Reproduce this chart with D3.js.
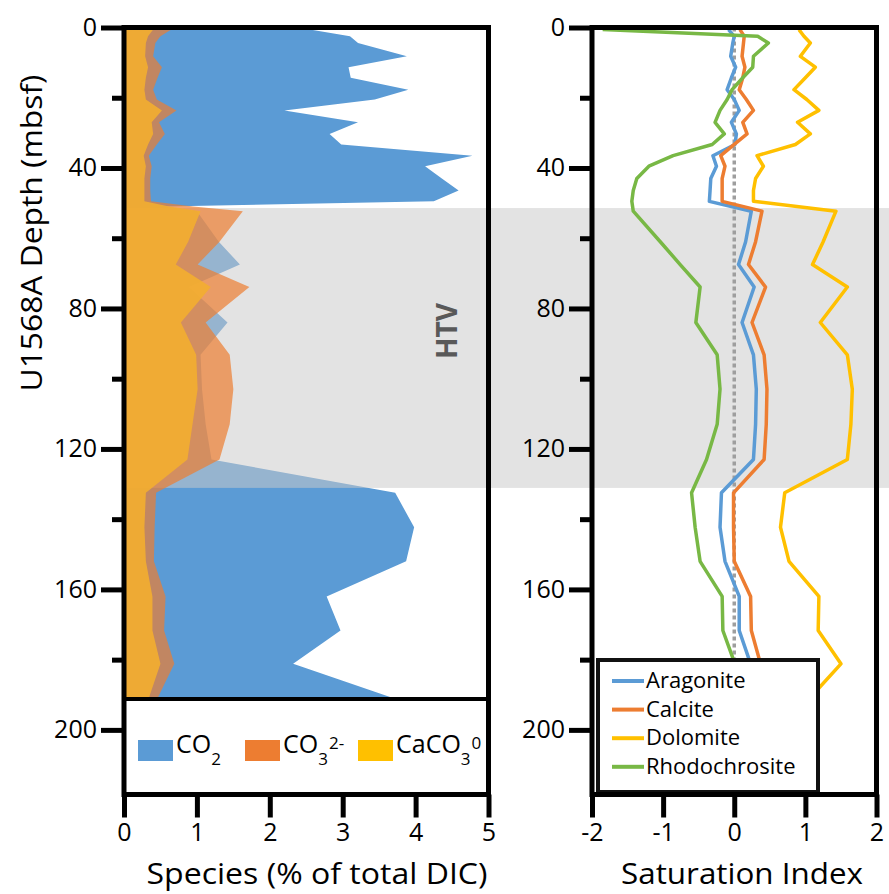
<!DOCTYPE html>
<html>
<head>
<meta charset="utf-8">
<script src="https://cdn.jsdelivr.net/npm/d3@7"></script>
<style>
  body { margin: 0; background: #fff; }
  svg text { font-family: 'Open Sans', sans-serif; fill: #000; }
</style>
</head>
<body>
<div id="chart"></div>
<script>
// sample depths (mbsf) used by the species panel
var depthSpecies = [0.6, 2.5, 4.4, 8.2, 11.3, 14.3, 17.7, 20.5, 23.6, 27.0, 30.3, 33.3, 36.5, 39.5, 43.0, 46.4, 49.5, 51.0,
  52.3, 61.0, 67.5, 73.9, 84.0, 93.2, 103.0, 113.0, 123.0, 132.5, 142.3, 152.0, 162.0, 171.7, 181.2, 191.0];
// % of total DIC
var co2 = [2.55, 3.10, 3.21, 3.88, 3.08, 3.11, 3.90, 3.44, 2.20, 3.21, 2.82, 2.98, 4.78, 4.13, 4.36, 4.59, 4.25, 0.55,
  1.00, 1.30, 1.59, 0.89, 1.42, 1.05, 1.07, 1.12, 1.20, 3.72, 3.98, 3.87, 2.78, 2.97, 2.32, 3.70];
var co3 = [0.65, 0.50, 0.43, 0.40, 0.52, 0.46, 0.40, 0.45, 0.72, 0.48, 0.56, 0.45, 0.34, 0.38, 0.36, 0.36, 0.37, 0.95,
  1.63, 1.31, 1.01, 1.72, 1.12, 1.45, 1.50, 1.45, 1.31, 0.44, 0.42, 0.41, 0.57, 0.55, 0.69, 0.46];
var caco3 = [0.40, 0.33, 0.30, 0.29, 0.33, 0.30, 0.28, 0.30, 0.52, 0.38, 0.40, 0.33, 0.27, 0.30, 0.28, 0.28, 0.28, 0.62,
  1.05, 0.88, 0.71, 1.19, 0.78, 0.99, 1.01, 0.94, 0.87, 0.30, 0.28, 0.30, 0.39, 0.39, 0.50, 0.34];

// sample depths (mbsf) used by the saturation index panel
var depthSI = [0.6, 2.5, 4.4, 8.2, 11.3, 14.3, 17.7, 20.5, 23.6, 27.0, 30.3, 33.3, 36.5, 39.5, 43.0, 46.4, 49.5,
  52.3, 61.0, 67.5, 73.9, 84.0, 93.2, 103.0, 113.0, 123.0, 132.5, 142.3, 152.0, 162.0, 171.7, 181.2, 191.0];
var aragonite = [-0.08, 0.00, -0.02, -0.05, 0.02, -0.04, -0.10, 0.00, 0.07, -0.04, 0.03, 0.01, -0.30, -0.25, -0.33, -0.34, -0.35,
  0.24, 0.16, 0.06, 0.28, 0.11, 0.27, 0.31, 0.30, 0.27, -0.18, -0.20, -0.13, 0.07, 0.07, 0.23, 0.30];
var calcite = [0.08, 0.14, 0.13, 0.11, 0.15, 0.12, 0.07, 0.17, 0.27, 0.12, 0.18, 0.00, -0.19, -0.13, -0.17, -0.17, -0.17,
  0.39, 0.30, 0.20, 0.44, 0.25, 0.42, 0.46, 0.45, 0.42, -0.01, -0.01, 0.00, 0.23, 0.24, 0.37, 0.42];
var dolomite = [0.91, 0.98, 1.07, 0.93, 1.14, 1.00, 0.84, 1.02, 1.19, 0.89, 1.07, 0.86, 0.32, 0.41, 0.30, 0.27, 0.27,
  1.43, 1.25, 1.10, 1.59, 1.21, 1.59, 1.66, 1.64, 1.59, 0.71, 0.65, 0.77, 1.19, 1.18, 1.50, 1.06];
var rhodochrosite = [-1.85, 0.33, 0.48, 0.27, 0.26, 0.12, -0.03, -0.10, -0.20, -0.27, -0.14, -0.31, -0.86, -1.20, -1.37, -1.42, -1.44,
  -1.42, -1.04, -0.76, -0.48, -0.54, -0.24, -0.20, -0.24, -0.39, -0.60, -0.55, -0.48, -0.17, -0.16, 0.01, 0.06];

var depthTicks = [0, 40, 80, 120, 160, 200];
var depthMinorTicks = [20, 60, 100, 140, 180];
var speciesTicks = [0, 1, 2, 3, 4, 5];
var siTicks = [-2, -1, 0, 1, 2];
var htvZone = [51.4, 131.1];

var width = 889, height = 894;
var svg = d3.select("#chart").append("svg")
  .attr("width", width)
  .attr("height", height);

var y = d3.scaleLinear().domain([0, 218.4]).range([27.5, 794.5]);
var xSp = d3.scaleLinear().domain([0, 5]).range([124, 488.5]);
var xSI = d3.scaleLinear().domain([-2, 2]).range([592, 876.5]);
var plotBottom = 699; // species plot ends where its legend box starts

svg.append("clipPath").attr("id", "clipSp")
  .append("rect")
  .attr("x", xSp(0)).attr("y", y(0))
  .attr("width", xSp(5) - xSp(0)).attr("height", plotBottom - y(0));
svg.append("clipPath").attr("id", "clipSI")
  .append("rect")
  .attr("x", xSI(-2)).attr("y", y(0))
  .attr("width", xSI(2) - xSI(-2)).attr("height", y.range()[1] - y(0));

function speciesArea(vals) {
  return d3.area()
    .y(function (d, i) { return y(depthSpecies[i]); })
    .x0(xSp(0))
    .x1(function (d) { return xSp(d); })(vals);
}

var left = svg.append("g").attr("clip-path", "url(#clipSp)");
left.append("path")
  .attr("d", speciesArea(co2))
  .attr("fill", "#5B9BD5");

// HTV interval shading, laid over the CO2 area
svg.append("rect")
  .attr("x", xSp(0))
  .attr("y", y(htvZone[0]))
  .attr("width", width - xSp(0))
  .attr("height", y(htvZone[1]) - y(htvZone[0]))
  .attr("fill", "#cacaca")
  .attr("fill-opacity", 0.53);

var left2 = svg.append("g").attr("clip-path", "url(#clipSp)");
left2.append("path")
  .attr("d", speciesArea(co3))
  .attr("fill", "#ED7D31")
  .attr("fill-opacity", 0.7);
left2.append("path")
  .attr("d", speciesArea(caco3))
  .attr("fill", "#F3AE30")
  .attr("fill-opacity", 0.9);

svg.append("text")
  .attr("transform", "translate(447,331) rotate(-90)")
  .attr("text-anchor", "middle")
  .attr("dy", "0.36em")
  .attr("font-size", "28px")
  .attr("font-weight", "bold")
  .attr("textLength", 56)
  .attr("lengthAdjust", "spacingAndGlyphs")
  .style("fill", "#595959")
  .text("HTV");

// saturation index panel
var right = svg.append("g").attr("clip-path", "url(#clipSI)");
right.append("line")
  .attr("x1", xSI(0)).attr("x2", xSI(0))
  .attr("y1", y(0)).attr("y2", y(depthSI[depthSI.length - 1]))
  .attr("stroke", "#9e9e9e")
  .attr("stroke-width", 3.5)
  .attr("stroke-dasharray", "4,3");

var minerals = [
  {name: "Aragonite", values: aragonite, color: "#5B9BD5"},
  {name: "Calcite", values: calcite, color: "#ED7D31"},
  {name: "Dolomite", values: dolomite, color: "#FFC000"},
  {name: "Rhodochrosite", values: rhodochrosite, color: "#78B845"}
];

var siLine = d3.line()
  .x(function (d) { return xSI(d); })
  .y(function (d, i) { return y(depthSI[i]); });

right.selectAll("path.mineral")
  .data(minerals)
  .enter().append("path")
  .attr("class", "mineral")
  .attr("fill", "none")
  .attr("stroke", function (d) { return d.color; })
  .attr("stroke-width", 3.5)
  .attr("stroke-linejoin", "round")
  .attr("d", function (d) { return siLine(d.values); });

// right legend
var leg = svg.append("g");
leg.append("rect")
  .attr("x", 598).attr("y", 660)
  .attr("width", 220).attr("height", 132)
  .attr("fill", "#fff")
  .attr("stroke", "#111")
  .attr("stroke-width", 4);
minerals.forEach(function (m, i) {
  var ly = 681 + i * 28.6;
  leg.append("line")
    .attr("x1", 612).attr("x2", 644)
    .attr("y1", ly).attr("y2", ly)
    .attr("stroke", m.color)
    .attr("stroke-width", 4);
  leg.append("text")
    .attr("x", 646).attr("y", ly + 7)
    .attr("font-size", "22px")
    .text(m.name);
});

// species legend
var species = [
  {main: "CO", sub: "2", sup: "", color: "#5B9BD5", x: 138},
  {main: "CO", sub: "3", sup: "2-", color: "#ED7D31", x: 245},
  {main: "CaCO", sub: "3", sup: "0", color: "#FFC000", x: 358}
];
species.forEach(function (s) {
  svg.append("rect")
    .attr("x", s.x).attr("y", 740)
    .attr("width", 35).attr("height", 21)
    .attr("fill", s.color);
  var t = svg.append("text")
    .attr("x", s.x + 38).attr("y", 753)
    .attr("font-size", "25px")
    .text(s.main);
  t.append("tspan").attr("dy", 12).attr("font-size", "17px").text(s.sub);
  if (s.sup) t.append("tspan").attr("dy", -16).attr("dx", 1).attr("font-size", "17px").text(s.sup);
});

// frames
svg.append("rect")
  .attr("x", xSp(0)).attr("y", y(0))
  .attr("width", xSp(5) - xSp(0)).attr("height", y.range()[1] - y(0))
  .attr("fill", "none").attr("stroke", "#000").attr("stroke-width", 5);
svg.append("line")
  .attr("x1", xSp(0)).attr("x2", xSp(5))
  .attr("y1", plotBottom).attr("y2", plotBottom)
  .attr("stroke", "#000").attr("stroke-width", 4);
svg.append("rect")
  .attr("x", xSI(-2)).attr("y", y(0))
  .attr("width", xSI(2) - xSI(-2)).attr("height", y.range()[1] - y(0))
  .attr("fill", "none").attr("stroke", "#000").attr("stroke-width", 5);

// axes
function styleAxis(g) {
  g.select(".domain").remove();
  g.selectAll(".tick line").attr("stroke", "#000").attr("stroke-width", 5);
  g.selectAll(".tick text")
    .style("font-family", "'Open Sans', sans-serif")
    .style("font-size", "25px")
    .attr("fill", "#000");
}

[xSp(0), xSI(-2)].forEach(function (ax) {
  svg.append("g")
    .attr("transform", "translate(" + ax + ",0)")
    .call(d3.axisLeft(y).tickValues(depthTicks).tickSize(23).tickPadding(4)
      .tickFormat(function (d) { return String(d); }))
    .call(styleAxis);
  svg.append("g")
    .attr("transform", "translate(" + ax + ",0)")
    .call(d3.axisLeft(y).tickValues(depthMinorTicks).tickSize(12).tickFormat(""))
    .call(styleAxis);
});

svg.append("g")
  .attr("transform", "translate(0," + y.range()[1] + ")")
  .call(d3.axisBottom(xSp).tickValues(speciesTicks).tickSize(23).tickPadding(6)
    .tickFormat(function (d) { return String(d); }))
  .call(styleAxis);
svg.append("g")
  .attr("transform", "translate(0," + y.range()[1] + ")")
  .call(d3.axisBottom(xSI).tickValues(siTicks).tickSize(23).tickPadding(6)
    .tickFormat(function (d) { return String(d); }))
  .call(styleAxis);

// axis titles
svg.append("text")
  .attr("x", 317).attr("y", 884)
  .attr("text-anchor", "middle")
  .attr("font-size", "29px")
  .attr("textLength", 341)
  .attr("lengthAdjust", "spacingAndGlyphs")
  .text("Species (% of total DIC)");
svg.append("text")
  .attr("x", 742).attr("y", 884)
  .attr("text-anchor", "middle")
  .attr("font-size", "29px")
  .attr("textLength", 242)
  .attr("lengthAdjust", "spacingAndGlyphs")
  .text("Saturation Index");
svg.append("text")
  .attr("transform", "translate(42,233) rotate(-90)")
  .attr("text-anchor", "middle")
  .attr("font-size", "29px")
  .attr("textLength", 317)
  .attr("lengthAdjust", "spacingAndGlyphs")
  .text("U1568A Depth (mbsf)");
</script>
</body>
</html>
